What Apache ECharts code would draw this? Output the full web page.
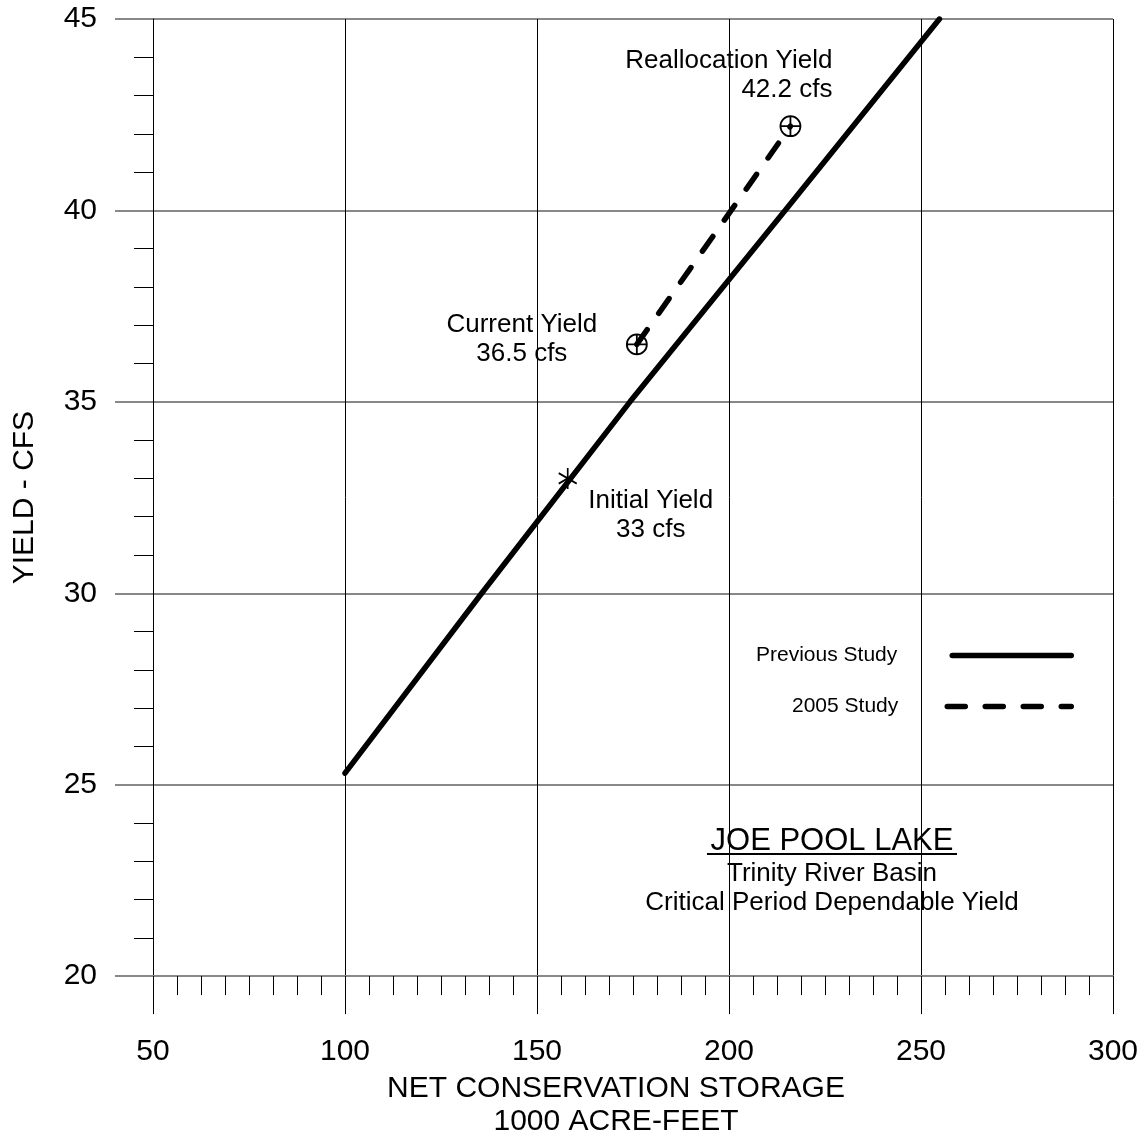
<!DOCTYPE html>
<html>
<head>
<meta charset="utf-8">
<script src="https://cdn.jsdelivr.net/npm/echarts@6/dist/echarts.min.js"></script>
<style>
html,body{margin:0;padding:0;background:#fff;overflow:hidden;}
#c{width:1144px;height:1143px;}
</style>
</head>
<body>
<div id="c"></div>
<script>
// ---- data ----
var previousStudy = [[100, 25.3], [135.6, 30], [174.2, 35], [214.6, 40], [254.8, 45]];
var study2005 = [[176, 36.5], [216, 42.2]];
var initialYield = [[158, 33]];
var currentYield = [[176, 36.5]];
var reallocYield = [[216, 42.2]];
var xTicks = [50, 100, 150, 200, 250, 300];
var yTicks = [20, 25, 30, 35, 40, 45];
var labels = {
  initial: 'Initial Yield\n33 cfs',
  current: 'Current Yield\n36.5 cfs',
  realloc: 'Reallocation Yield\n42.2 cfs'
};
var titleLines = ['JOE POOL LAKE', 'Trinity River Basin', 'Critical Period Dependable Yield'];

var FONT = '"Liberation Sans", Arial, sans-serif';
var circlePlus = 'path://M10,0A10,10,0,1,1,-10,0A10,10,0,1,1,10,0ZM-10,0L10,0M0,-10L0,10';
var star = 'path://M0,-10L0,10M-8.66,-5L8.66,5M-8.66,5L8.66,-5';

var chart = echarts.init(document.getElementById('c'), null, {renderer: 'canvas', width: 1144, height: 1143});

function annoLabel(text, align, offset) {
  return {
    show: true, position: 'inside', align: align, verticalAlign: 'middle',
    offset: offset, formatter: text, fontFamily: FONT, fontSize: 26, opacity: 1,
    color: '#000', lineHeight: 29, textBorderWidth: 0, textBorderColor: 'transparent'
  };
}
var markerStyle = {color: 'rgba(0,0,0,0)', borderColor: '#000', borderWidth: 1.8, opacity: 1};

var option = {
  backgroundColor: '#fff',
  animation: false,
  grid: {left: 153, width: 960, top: 19, height: 961, containLabel: false},
  xAxis: {
    type: 'value', min: xTicks[0], max: xTicks[xTicks.length - 1], interval: 50,
    name: 'NET CONSERVATION STORAGE\n1000 ACRE-FEET',
    nameLocation: 'middle', nameGap: 92,
    nameTextStyle: {fontFamily: FONT, fontSize: 30, color: '#000', lineHeight: 33, padding: [0, 34, 0, 0]},
    axisLine: {show: true, onZero: false, lineStyle: {color: '#888', width: 2}},
    axisTick: {show: true, length: 38, lineStyle: {color: '#000', width: 1}},
    minorTick: {show: true, splitNumber: 8, length: 19, lineStyle: {color: '#000', width: 1}},
    splitLine: {show: true, lineStyle: {color: '#000', width: 1}},
    axisLabel: {fontFamily: FONT, fontSize: 30, color: '#000', margin: 61}
  },
  yAxis: {
    type: 'value', min: yTicks[0], max: yTicks[yTicks.length - 1], interval: 5,
    name: 'YIELD - CFS', nameLocation: 'middle', nameGap: 113, nameRotate: 90,
    nameTextStyle: {fontFamily: FONT, fontSize: 30, color: '#000'},
    axisLine: {show: true, onZero: false, lineStyle: {color: '#000', width: 1}},
    axisTick: {show: true, length: 38, lineStyle: {color: '#888', width: 2}},
    minorTick: {show: true, splitNumber: 5, length: 19, lineStyle: {color: '#000', width: 1}},
    splitLine: {show: true, lineStyle: {color: '#888', width: 2}},
    axisLabel: {fontFamily: FONT, fontSize: 30, color: '#000', margin: 56}
  },
  legend: [
    {
      data: ['Previous Study'], orient: 'vertical', align: 'right',
      right: 70, top: 645, padding: 0, itemWidth: 119, itemHeight: 20,
      itemStyle: {opacity: 0, borderWidth: 0},
      lineStyle: {width: 5.5, type: 'solid', cap: 'round', color: '#000'},
      textStyle: {fontFamily: FONT, fontSize: 21, color: '#000', padding: [0, 50, 0, 0]},
      selectedMode: false
    },
    {
      data: ['2005 Study'], orient: 'vertical', align: 'right',
      right: 70, top: 696, padding: 0, itemWidth: 124, itemHeight: 20,
      itemStyle: {opacity: 0, borderWidth: 0},
      lineStyle: {width: 5.5, type: [18, 20], cap: 'round', color: '#000'},
      textStyle: {fontFamily: FONT, fontSize: 21, color: '#000', padding: [0, 44, 0, 0]},
      selectedMode: false
    }
  ],
  series: [
    {
      name: 'Previous Study', type: 'line', data: previousStudy,
      symbol: 'none', z: 5,
      lineStyle: {color: '#000', width: 5.5, cap: 'round'},
      itemStyle: {color: '#000'}
    },
    {
      name: '2005 Study', type: 'line', data: study2005,
      symbol: 'none', z: 5,
      lineStyle: {color: '#000', width: 5.5, type: [18, 20], cap: 'round'},
      itemStyle: {color: '#000'}
    },
    {
      name: 'Initial', type: 'scatter', data: initialYield, z: 6,
      symbol: star, symbolSize: [18, 21],
      itemStyle: markerStyle,
      label: annoLabel(labels.initial, 'center', [83, 37])
    },
    {
      name: 'Current', type: 'scatter', data: currentYield, z: 6,
      symbol: circlePlus, symbolSize: 20,
      itemStyle: markerStyle,
      label: annoLabel(labels.current, 'center', [-115, -5])
    },
    {
      name: 'Realloc', type: 'scatter', data: reallocYield, z: 6,
      symbol: circlePlus, symbolSize: 20,
      itemStyle: markerStyle,
      label: annoLabel(labels.realloc, 'right', [42, -51])
    }
  ],
  graphic: [
    {type: 'text', x: 832, y: 841, style: {text: titleLines[0], fontFamily: FONT, fontSize: 31, fill: '#000', textAlign: 'center', textVerticalAlign: 'middle'}},
    {type: 'line', shape: {x1: 707, y1: 854, x2: 957, y2: 854}, style: {stroke: '#000', lineWidth: 2}},
    {type: 'text', x: 832, y: 874, style: {text: titleLines[1], fontFamily: FONT, fontSize: 26, fill: '#000', textAlign: 'center', textVerticalAlign: 'middle'}},
    {type: 'text', x: 832, y: 903, style: {text: titleLines[2], fontFamily: FONT, fontSize: 26, fill: '#000', textAlign: 'center', textVerticalAlign: 'middle'}}
  ]
};
chart.setOption(option);
</script>
</body>
</html>
